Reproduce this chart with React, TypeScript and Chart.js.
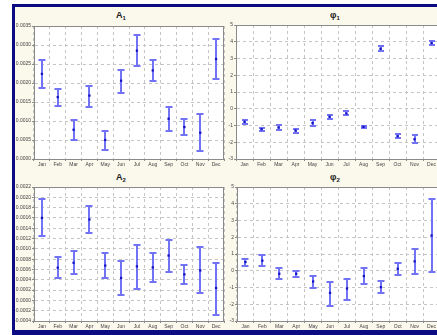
import React, { useEffect, useRef } from "react";
import { Chart, registerables } from "chart.js";

Chart.register(...registerables);

// ---- data ----
const months = ["Jan", "Feb", "Mar", "Apr", "May", "Jun", "Jul", "Aug", "Sep", "Oct", "Nov", "Dec"];

const a1Mean = [0.00224, 0.00163, 0.00077, 0.00167, 0.0005, 0.00206, 0.00285, 0.00233, 0.00106, 0.00084, 0.00069, 0.00263];
const a1Low = [0.00188, 0.0014, 0.00051, 0.00137, 0.00025, 0.00175, 0.00246, 0.00204, 0.00075, 0.00063, 0.00022, 0.00211];
const a1High = [0.00261, 0.00184, 0.00103, 0.00193, 0.00075, 0.00235, 0.00326, 0.00261, 0.00137, 0.00104, 0.00118, 0.00316];

const phi1Mean = [-0.78, -1.22, -1.12, -1.3, -0.86, -0.48, -0.28, -1.08, 3.58, -1.64, -1.82, 3.92];
const phi1Low = [-0.92, -1.32, -1.26, -1.44, -1.04, -0.62, -0.4, -1.16, 3.42, -1.76, -2.06, 3.78];
const phi1High = [-0.66, -1.12, -0.98, -1.18, -0.7, -0.36, -0.16, -1.0, 3.76, -1.52, -1.58, 4.04];

const a2Mean = [0.0016, 0.000635, 0.00073, 0.00157, 0.000675, 0.000435, 0.00066, 0.00064, 0.00087, 0.000505, 0.00058, 0.00024];
const a2Low = [0.00125, 0.00043, 0.000505, 0.00131, 0.00043, 0.0001, 0.00023, 0.000355, 0.000545, 0.000325, 0.00015, -0.00029];
const a2High = [0.00197, 0.00084, 0.00096, 0.00183, 0.00091, 0.00076, 0.00108, 0.00091, 0.00117, 0.00069, 0.00103, 0.00073];

const phi2Mean = [0.52, 0.6, -0.18, -0.18, -0.64, -1.32, -1.06, -0.32, -0.98, 0.12, 0.56, 2.1];
const phi2Low = [0.3, 0.3, -0.5, -0.36, -1.0, -2.1, -1.74, -0.78, -1.32, -0.26, -0.22, -0.06];
const phi2High = [0.72, 0.92, 0.14, -0.02, -0.32, -0.66, -0.48, 0.14, -0.62, 0.48, 1.28, 4.26];

// axis ranges: [min, max, step]
const a1Axis = [0, 0.0035, 0.0005];
const phi1Axis = [-3, 5, 1];
const a2Axis = [-0.0004, 0.0022, 0.0002];
const phi2Axis = [-3, 5, 1];

const ERR_COLOR = "#7272f4";
const PT_COLOR = "#1212c4";
const GRID_COLOR = "#c4c4c4";
const AXIS_COLOR = "#8a8a8a";
const LABEL_COLOR = "#444";
const FONT = "'Liberation Sans', Arial, sans-serif";

type PanelProps = {
  mean: number[];
  low: number[];
  high: number[];
  axis: number[];
  decimals: number;
  left: number;
  top: number;
  width: number;
  height: number;
  yAxisW: number;
  cap: number;
};

function Panel(p: PanelProps) {
  const ref = useRef<HTMLCanvasElement>(null);
  useEffect(() => {
    if (!ref.current) return;
    const plugin = {
      id: "errbars",
      beforeDraw(chart: any) {
        const { ctx, chartArea: a } = chart;
        ctx.save();
        ctx.fillStyle = "#ffffff";
        ctx.fillRect(a.left, a.top, a.right - a.left, a.bottom - a.top);
        ctx.restore();
      },
      beforeDatasetsDraw(chart: any) {
        const { ctx, chartArea: a } = chart;
        const xs = chart.scales.x;
        const ys = chart.scales.y;
        ctx.save();
        ctx.strokeStyle = AXIS_COLOR;
        ctx.lineWidth = 1;
        ctx.strokeRect(Math.round(a.left) + 0.5, Math.round(a.top) + 0.5, Math.round(a.right - a.left) - 1, Math.round(a.bottom - a.top));
        ctx.beginPath();
        ctx.rect(a.left, a.top, a.right - a.left, a.bottom - a.top);
        ctx.clip();
        ctx.strokeStyle = ERR_COLOR;
        ctx.lineWidth = 2;
        for (let i = 0; i < p.mean.length; i++) {
          const x = Math.round(xs.getPixelForValue(i));
          const y1 = Math.round(ys.getPixelForValue(p.low[i]));
          const y2 = Math.round(ys.getPixelForValue(p.high[i]));
          ctx.beginPath();
          ctx.moveTo(x, y1);
          ctx.lineTo(x, y2);
          ctx.moveTo(x - p.cap, y1);
          ctx.lineTo(x + p.cap, y1);
          ctx.moveTo(x - p.cap, y2);
          ctx.lineTo(x + p.cap, y2);
          ctx.stroke();
        }
        ctx.restore();
      },
    };
    const chart = new Chart(ref.current, {
      type: "line",
      data: {
        labels: months,
        datasets: [
          {
            data: p.mean,
            showLine: false,
            pointStyle: "rect",
            pointRadius: 1.6,
            pointBackgroundColor: PT_COLOR,
            pointBorderColor: PT_COLOR,
            pointBorderWidth: 0,
          },
        ],
      },
      options: {
        animation: false,
        responsive: false,
        maintainAspectRatio: false,
        devicePixelRatio: 1,
        layout: { padding: { top: 6, right: 2, left: 0, bottom: 0 } },
        plugins: { legend: { display: false }, tooltip: { enabled: false }, title: { display: false } },
        scales: {
          x: {
            type: "category",
            offset: true,
            grid: { offset: true, color: GRID_COLOR, tickColor: AXIS_COLOR, tickLength: 2, lineWidth: 1 },
            border: { display: true, color: AXIS_COLOR, dash: [3, 3] },
            ticks: { font: { size: 5, family: FONT }, color: LABEL_COLOR, autoSkip: false, maxRotation: 0, padding: 1 },
            afterFit: (s: any) => {
              s.height = 11;
            },
          },
          y: {
            min: p.axis[0],
            max: p.axis[1],
            grid: { color: GRID_COLOR, tickColor: AXIS_COLOR, tickLength: 2, lineWidth: 1 },
            border: { display: true, color: AXIS_COLOR, dash: [3, 3] },
            ticks: {
              stepSize: p.axis[2],
              font: { size: 5, family: FONT },
              color: LABEL_COLOR,
              padding: 1,
              callback: (v: any) => {
                const n = Number(v);
                const s = n.toFixed(p.decimals);
                return Math.abs(n) < 1e-12 ? (0).toFixed(p.decimals) : s;
              },
            },
            afterFit: (s: any) => {
              s.width = p.yAxisW;
            },
          },
        },
      },
      plugins: [plugin],
    } as any);
    return () => chart.destroy();
  }, []);
  return (
    <canvas
      ref={ref}
      width={p.width}
      height={p.height}
      style={{ position: "absolute", left: p.left, top: p.top, width: p.width, height: p.height }}
    />
  );
}

function Title({ base, sub, cx, cy }: { base: string; sub: string; cx: number; cy: number }) {
  return (
    <div
      style={{
        position: "absolute",
        left: cx,
        top: cy,
        transform: "translate(-50%, -50%)",
        fontFamily: FONT,
        fontWeight: "bold",
        fontSize: 9,
        color: "#222",
        lineHeight: "10px",
        whiteSpace: "nowrap",
      }}
    >
      {base}
      <span style={{ fontSize: 6, verticalAlign: -2 }}>{sub}</span>
    </div>
  );
}

export default function App() {
  return (
    <div style={{ position: "fixed", left: 0, top: 0, width: 437, height: 335, overflow: "hidden", background: "#ffffff" }}>
      <div
        style={{
          position: "absolute",
          left: 12,
          top: 4,
          width: 470,
          height: 331,
          boxSizing: "border-box",
          borderTop: "3px solid #0c0c82",
          borderLeft: "3px solid #0c0c82",
          borderBottom: "5px solid #0c0c82",
          background: "#fbf8ec",
        }}
      />
      <Title base="A" sub="1" cx={121} cy={16} />
      <Title base="φ" sub="1" cx={335} cy={16} />
      <Title base="A" sub="2" cx={121} cy={178} />
      <Title base="φ" sub="2" cx={335} cy={178} />
      <Panel mean={a1Mean} low={a1Low} high={a1High} axis={a1Axis} decimals={4} left={15} top={20} width={213} height={150} yAxisW={19} cap={3.5} />
      <Panel mean={phi1Mean} low={phi1Low} high={phi1High} axis={phi1Axis} decimals={0} left={228} top={19} width={216} height={151} yAxisW={8} cap={3} />
      <Panel mean={a2Mean} low={a2Low} high={a2High} axis={a2Axis} decimals={4} left={15} top={181} width={213} height={151} yAxisW={19} cap={3.5} />
      <Panel mean={phi2Mean} low={phi2Low} high={phi2High} axis={phi2Axis} decimals={0} left={228} top={181} width={216} height={151} yAxisW={9} cap={3.5} />
    </div>
  );
}
